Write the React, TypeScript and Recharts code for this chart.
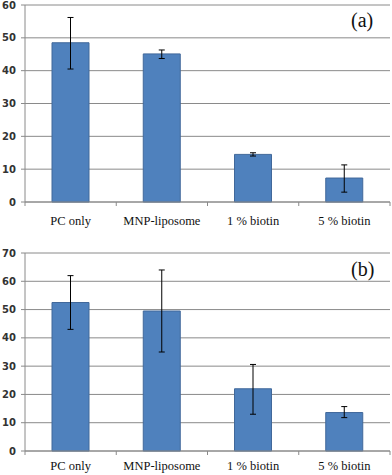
import React from 'react';
import { BarChart, Bar, XAxis, YAxis, CartesianGrid, ErrorBar } from 'recharts';

const categories = ['PC only', 'MNP-liposome', '1 % biotin', '5 % biotin'];

// panel (a)
const meanA = [48.5, 45.1, 14.5, 7.3];
const lowA = [40.5, 43.7, 14.0, 3.0];
const highA = [56.2, 46.3, 15.0, 11.3];
const ticksA = [0, 10, 20, 30, 40, 50, 60];

// panel (b)
const meanB = [52.5, 49.5, 22.0, 13.6];
const lowB = [43.0, 35.0, 13.0, 11.8];
const highB = [62.0, 64.0, 30.6, 15.7];
const ticksB = [0, 10, 20, 30, 40, 50, 60, 70];

const W = 392;
const Y_W = 25;
const RIGHT = 2;
const STEP = (W - Y_W - RIGHT) / categories.length;
const SERIF = 'Liberation Serif, DejaVu Serif, serif';

const build = (mean: number[], low: number[], high: number[]) =>
  categories.map((name, i) => ({
    name,
    value: mean[i],
    err: [mean[i] - low[i], high[i] - mean[i]],
  }));

const dataA = build(meanA, lowA, highA);
const dataB = build(meanB, lowB, highB);

const CatTick = (offset: number) => (props: any) => {
  const { x, y, payload, index } = props;
  const last = index === categories.length - 1;
  return (
    <g>
      <line x1={x - STEP / 2} y1={y} x2={x - STEP / 2} y2={y + 4} stroke="#8a8a8a" />
      {last && <line x1={x + STEP / 2} y1={y} x2={x + STEP / 2} y2={y + 4} stroke="#8a8a8a" />}
      <text x={x} y={y + offset} textAnchor="middle" fill="#111" fontFamily={SERIF} fontSize={12.5}>
        {payload.value}
      </text>
    </g>
  );
};

interface PanelProps {
  data: any[];
  height: number;
  top: number;
  xh: number;
  max: number;
  ticks: number[];
  labelOffset: number;
}

const Panel: React.FC<PanelProps> = ({ data, height, top, xh, max, ticks, labelOffset }) => (
  <BarChart width={W} height={height} data={data} margin={{ top, right: RIGHT, left: 0, bottom: 0 }} barSize={37}>
    <CartesianGrid vertical={false} stroke="#8a8a8a" />
    <XAxis
      dataKey="name"
      height={xh}
      tickSize={0}
      tickMargin={0}
      tickLine={false}
      axisLine={{ stroke: '#8a8a8a' }}
      tick={CatTick(labelOffset)}
      interval={0}
    />
    <YAxis
      width={Y_W}
      domain={[0, max]}
      ticks={ticks}
      interval={0}
      tickSize={4}
      tickMargin={5}
      axisLine={{ stroke: '#8a8a8a' }}
      tickLine={{ stroke: '#8a8a8a' }}
      tick={{ fill: '#333', fontSize: 10, fontWeight: 'bold', fontFamily: 'DejaVu Sans, Verdana, sans-serif' }}
    />
    <Bar dataKey="value" fill="#4f81bd" stroke="#41689a" isAnimationActive={false}>
      <ErrorBar dataKey="err" width={3} stroke="#000" strokeWidth={1} direction="y" />
    </Bar>
  </BarChart>
);

const tagStyle: React.CSSProperties = {
  position: 'absolute',
  fontFamily: SERIF,
  fontSize: 20,
  color: '#111',
  lineHeight: '20px',
};

export default function App() {
  return (
    <div style={{ position: 'absolute', left: 0, top: 0, width: W, height: 475, background: '#fff' }}>
      <div style={{ position: 'absolute', left: 0, top: 0 }}>
        <Panel data={dataA} height={235} top={5} xh={33} max={60} ticks={ticksA} labelOffset={23} />
      </div>
      <div style={{ position: 'absolute', left: 0, top: 235 }}>
        <Panel data={dataB} height={240} top={18} xh={24} max={70} ticks={ticksB} labelOffset={19} />
      </div>
      <div style={{ ...tagStyle, left: 351, top: 10 }}>(a)</div>
      <div style={{ ...tagStyle, left: 351, top: 259 }}>(b)</div>
    </div>
  );
}
